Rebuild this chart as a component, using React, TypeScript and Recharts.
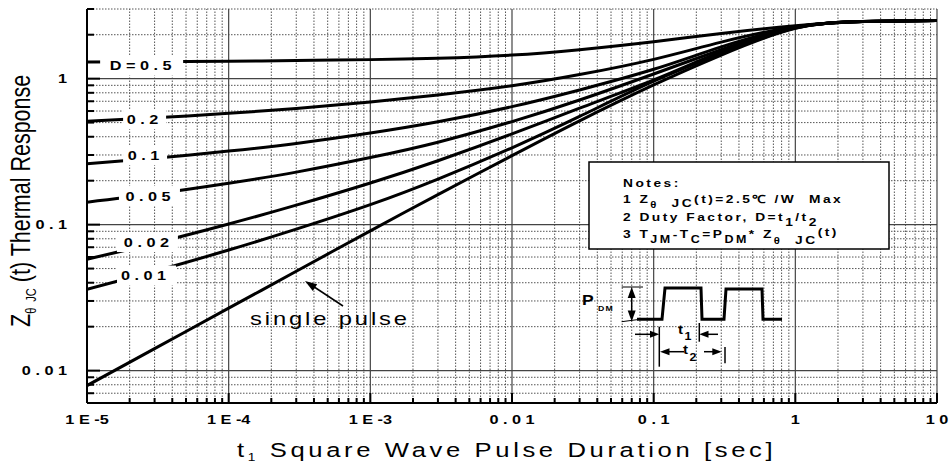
import React from 'react';
import { ComposedChart, Line, Scatter, XAxis, YAxis, ReferenceLine } from 'recharts';

// ---- data ----
const T_VALUES = [1e-5, 3e-5, 1e-4, 3e-4, 1e-3, 3e-3, 1e-2, 3e-2, 0.1, 0.3, 1, 3, 10];
const Z_D050 = [1.30, 1.305, 1.315, 1.33, 1.35, 1.38, 1.45, 1.58, 1.79, 2.04, 2.30, 2.46, 2.50];
const Z_D020 = [0.51, 0.539, 0.579, 0.625, 0.693, 0.774, 0.894, 1.066, 1.356, 1.78, 2.27, 2.46, 2.50];
const Z_D010 = [0.261, 0.285, 0.319, 0.360, 0.424, 0.506, 0.643, 0.837, 1.159, 1.65, 2.25, 2.46, 2.50];
const Z_D005 = [0.1425, 0.1626, 0.1924, 0.229, 0.288, 0.367, 0.508, 0.714, 1.076, 1.58, 2.24, 2.46, 2.50];
const Z_D002 = [0.058, 0.0746, 0.101, 0.136, 0.193, 0.274, 0.418, 0.628, 0.98, 1.53, 2.23, 2.46, 2.50];
const Z_D001 = [0.036, 0.0479, 0.067, 0.0931, 0.137, 0.205, 0.336, 0.551, 0.96, 1.49, 2.22, 2.46, 2.50];
const Z_SINGLE = [0.0079, 0.01414, 0.02677, 0.0479, 0.0907, 0.1605, 0.2967, 0.5138, 0.905, 1.45, 2.21, 2.46, 2.50];
const SERIES_Z = [Z_D050, Z_D020, Z_D010, Z_D005, Z_D002, Z_D001, Z_SINGLE];

const LABEL_TEXT = ['D = 0 . 5', '0 . 2', '0 . 1', '0 . 0 5', '0 . 0 2', '0 . 0 1'];
const LABEL_T = [2.43e-5, 2.55e-5, 2.57e-5, 2.76e-5, 2.67e-5, 2.63e-5];
const LABEL_Z = [1.228, 0.527, 0.2985, 0.157, 0.076, 0.0448];

const X_DECADES = [1e-5, 1e-4, 1e-3, 1e-2, 1e-1, 1, 10];
const X_DECADE_LABELS = ['1 E -5', '1 E -4', '1 E -3', '0 . 0 1', '0 . 1', '1', '1 0'];
const Y_DECADES = [0.01, 0.1, 1];
const Y_DECADE_LABELS = ['0 . 0 1', '0 . 1', '1'];
const MINOR_MULTS = [2, 3, 4, 5, 6, 7, 8, 9];
const X_MINOR = X_DECADES.slice(0, -1).flatMap((d) => MINOR_MULTS.map((m) => m * d));
const Y_MINOR = [0.007, 0.008, 0.009, 0.02, 0.03, 0.04, 0.05, 0.06, 0.07, 0.08, 0.09, 0.2, 0.3, 0.4, 0.5, 0.6, 0.7, 0.8, 0.9, 2, 3];
const X_TICKS = [...X_DECADES, ...X_MINOR].sort((a, b) => a - b);
const Y_TICKS = [...Y_DECADES, ...Y_MINOR].sort((a, b) => a - b);

// ---- styles ----
const FONT = "'Liberation Sans', Arial, Helvetica, sans-serif";
const SX = 1.25;
const LABEL_BOX_W = [83, 43, 44, 61, 61, 59];
const LABEL_DX = [-1, -2, -1.5, -1.5, -1, -3];
const MINOR_GRID = { stroke: '#555', strokeWidth: 1, strokeDasharray: '1.5 1.5' };
const MAJOR_GRID = { stroke: '#444', strokeWidth: 1.2 };

const seriesData = SERIES_Z.map((zs) => T_VALUES.map((t, i) => ({ t, z: zs[i] })));
const labelData = LABEL_TEXT.map((text, i) => ({ t: LABEL_T[i], z: LABEL_Z[i], text, idx: i }));

const decadeIndex = (arr: number[], v: number) =>
  arr.findIndex((d) => Math.abs(Math.log10(d) - Math.log10(v)) < 1e-6);

const SText = ({ x, y, sx = SX, children, ...rest }: any) => (
  <g transform={`translate(${x},${y}) scale(${sx},1)`}>
    <text x={0} y={0} fontFamily={FONT} fill="#000" style={{ whiteSpace: 'pre' }} {...rest}>
      {children}
    </text>
  </g>
);

const BottomTick = (props: any) => {
  const { x, y, payload } = props;
  const i = decadeIndex(X_DECADES, payload.value);
  const major = i >= 0;
  return (
    <g>
      <line x1={x} x2={x} y1={y} y2={y - (major ? 10 : 5)} stroke="#000" strokeWidth={2} />
      {major && (
        <SText x={x} y={y + 21} textAnchor="middle" fontWeight="bold" fontSize={13}>
          {X_DECADE_LABELS[i]}
        </SText>
      )}
    </g>
  );
};

const LeftTick = (props: any) => {
  const { x, y, payload } = props;
  const i = decadeIndex(Y_DECADES, payload.value);
  const major = i >= 0;
  return (
    <g>
      <line x1={x} x2={x + (major ? 13 : 7)} y1={y} y2={y} stroke="#000" strokeWidth={2} />
      {major && (
        <SText x={x - 20} y={y + 4.5} textAnchor="end" fontWeight="bold" fontSize={13}>
          {Y_DECADE_LABELS[i]}
        </SText>
      )}
    </g>
  );
};

const RightTick = (props: any) => {
  const { x, y, payload } = props;
  const major = decadeIndex(Y_DECADES, payload.value) >= 0;
  return <line x1={x} x2={x - (major ? 11 : 7)} y1={y} y2={y} stroke="#000" strokeWidth={2} />;
};

const LabelShape = (p: any) => {
  const { cx, cy, payload } = p;
  const w = LABEL_BOX_W[payload.idx];
  return (
    <g>
      <rect x={cx - w / 2} y={cy - 10} width={w} height={20} fill="#fff" />
      <SText x={cx + LABEL_DX[payload.idx]} y={cy + 4.5} textAnchor="middle" fontWeight="bold" fontSize={13}>
        {payload.text}
      </SText>
    </g>
  );
};

const Overlay = () => (
  <svg width={949} height={466} style={{ position: 'absolute', left: 0, top: 0, pointerEvents: 'none' }}>
    {/* Y axis title */}
    <g transform="translate(30,327) rotate(-90) scale(1,1.25)">
      <text x={0} y={0} fontFamily={FONT} fontSize={21.5} fill="#000" style={{ whiteSpace: 'pre' }}>
        Z<tspan fontSize={11} dy={5}>θ  JC</tspan>
        <tspan dy={-5}> (t) Thermal Response</tspan>
      </text>
    </g>
    {/* X axis title */}
    <SText x={237} y={457} fontSize={20.5} letterSpacing={2.9}>
      t<tspan fontSize={11} dy={4}>1</tspan>
      <tspan dy={-4}> Square Wave Pulse Duration [sec]</tspan>
    </SText>

    {/* Notes box */}
    <rect x={589} y={162} width={300} height={87} fill="#fff" stroke="#000" strokeWidth={1.5} />
    <SText x={623} y={187} fontSize={11} fontWeight="bold" letterSpacing={2}>Notes:</SText>
    <SText x={623} y={203} fontSize={11} fontWeight="bold" letterSpacing={2}>
      1 Z<tspan fontSize={9} dy={5}>θ</tspan>
      <tspan fontSize={11} dy={-1}>  JC</tspan>
      <tspan dy={-4}>(t)=2.5℃ /W  Max</tspan>
    </SText>
    <SText x={623} y={221} fontSize={11} fontWeight="bold" letterSpacing={2}>
      2 Duty Factor, D=t<tspan fontSize={11} dy={5}>1</tspan>
      <tspan dy={-5}>/t</tspan>
      <tspan dy={5}>2</tspan>
    </SText>
    <SText x={623} y={238} fontSize={11} fontWeight="bold" letterSpacing={2}>
      3 T<tspan fontSize={10} dy={5}>JM</tspan>
      <tspan dy={-5}>-T</tspan>
      <tspan fontSize={10} dy={5}>C</tspan>
      <tspan dy={-5}>=P</tspan>
      <tspan fontSize={10} dy={5}>DM</tspan>
      <tspan dy={-5}>* Z</tspan>
      <tspan fontSize={9} dy={6}>θ</tspan>
      <tspan fontSize={11}>  JC</tspan>
      <tspan dy={-8}>(t)</tspan>
    </SText>

    {/* Pulse diagram */}
    <polyline
      points="637,319.3 662,319.3 665,288 701,288 702,319.3 724,319.3 726,289 762,289 763,319.3 782,319.3"
      fill="none" stroke="#000" strokeWidth={3} strokeLinejoin="miter"
    />
    <line x1={621.7} x2={643} y1={287} y2={287} stroke="#000" strokeWidth={1} />
    <line x1={621.7} x2={640} y1={321.7} y2={319.3} stroke="#000" strokeWidth={1} />
    <line x1={631.7} x2={631.7} y1={297} y2={311} stroke="#000" strokeWidth={1.5} />
    <polygon points="631.7,287 627.7,298 635.7,298" fill="#000" />
    <polygon points="631.7,321.5 627.7,310.5 635.7,310.5" fill="#000" />
    <SText x={582} y={305} fontSize={14} fontWeight="bold">P</SText>
    <SText x={598} y={311} fontSize={7} fontWeight="bold" letterSpacing={1}>DM</SText>

    <line x1={659.3} x2={659.3} y1={326.7} y2={366.7} stroke="#000" strokeWidth={1.5} />
    <line x1={635} x2={652} y1={334.3} y2={334.3} stroke="#000" strokeWidth={1.5} />
    <polygon points="659.3,334.3 650,330.8 650,337.8" fill="#000" />
    <line x1={699.3} x2={699.3} y1={323} y2={341.7} stroke="#000" strokeWidth={1.5} />
    <line x1={706} x2={718} y1={334.3} y2={334.3} stroke="#000" strokeWidth={1.5} />
    <polygon points="699.3,334.3 708.5,330.8 708.5,337.8" fill="#000" />
    <SText x={678} y={334} fontSize={12} fontWeight="bold">t</SText>
    <SText x={684.5} y={340} fontSize={10} fontWeight="bold">1</SText>

    <line x1={668} x2={684} y1={351.7} y2={351.7} stroke="#000" strokeWidth={1.5} />
    <polygon points="660,351.7 669.5,348.2 669.5,355.2" fill="#000" />
    <SText x={683} y={354} fontSize={12} fontWeight="bold">t</SText>
    <SText x={689.5} y={361} fontSize={10} fontWeight="bold">2</SText>
    <line x1={704} x2={713} y1={351.7} y2={351.7} stroke="#000" strokeWidth={1.5} />
    <polygon points="721.7,351.7 712.3,348.2 712.3,355.2" fill="#000" />
    <line x1={725} x2={725} y1={347} y2={363.3} stroke="#000" strokeWidth={1.5} />

    {/* single pulse annotation */}
    <SText x={250} y={325} fontSize={19} letterSpacing={2.3}>single pulse</SText>
    <line x1={343} y1={306} x2={312} y2={285.5} stroke="#000" strokeWidth={1.5} />
    <polygon points="305,281 317.2,284.3 312.8,290.9" fill="#000" />
  </svg>
);

export default function App() {
  return (
    <div style={{ position: 'absolute', left: 0, top: 0, width: 949, height: 466, background: '#fff' }}>
      <ComposedChart width={949} height={466} margin={{ top: 9, right: 12, bottom: 0, left: 0 }}>
        <XAxis
          dataKey="t"
          type="number"
          scale="log"
          domain={[1e-5, 10]}
          allowDataOverflow
          ticks={X_TICKS}
          interval={0}
          height={63}
          tickSize={0}
          tickMargin={0}
          tickLine={false}
          tick={BottomTick}
          axisLine={{ stroke: '#000', strokeWidth: 2 }}
        />
        <XAxis
          xAxisId="top"
          orientation="top"
          dataKey="t"
          type="number"
          scale="log"
          domain={[1e-5, 10]}
          allowDataOverflow
          height={0}
          tick={false}
          tickLine={false}
          axisLine={{ stroke: '#000', strokeWidth: 2 }}
        />
        <YAxis
          dataKey="z"
          type="number"
          scale="log"
          domain={[0.006, 3]}
          allowDataOverflow
          ticks={Y_TICKS}
          interval={0}
          width={87}
          tickSize={0}
          tickMargin={0}
          tickLine={false}
          tick={LeftTick}
          axisLine={{ stroke: '#000', strokeWidth: 2 }}
        />
        <YAxis
          yAxisId="right"
          orientation="right"
          dataKey="z"
          type="number"
          scale="log"
          domain={[0.006, 3]}
          allowDataOverflow
          ticks={Y_TICKS}
          interval={0}
          width={0}
          tickSize={0}
          tickMargin={0}
          tickLine={false}
          tick={RightTick}
          axisLine={{ stroke: '#000', strokeWidth: 2 }}
        />
        {X_MINOR.map((v) => (
          <ReferenceLine key={`xm${v}`} x={v} {...MINOR_GRID} />
        ))}
        {Y_MINOR.map((v) => (
          <ReferenceLine key={`ym${v}`} y={v} {...MINOR_GRID} />
        ))}
        {X_DECADES.map((v) => (
          <ReferenceLine key={`xd${v}`} x={v} {...MAJOR_GRID} />
        ))}
        {Y_DECADES.map((v) => (
          <ReferenceLine key={`yd${v}`} y={v} {...MAJOR_GRID} />
        ))}
        {seriesData.map((d, i) => (
          <Line
            key={i}
            data={d}
            dataKey="z"
            type="natural"
            stroke="#000"
            strokeWidth={3}
            dot={false}
            activeDot={false}
            isAnimationActive={false}
          />
        ))}
        <Scatter data={labelData} dataKey="z" shape={LabelShape} isAnimationActive={false} />
      </ComposedChart>
      <Overlay />
    </div>
  );
}
